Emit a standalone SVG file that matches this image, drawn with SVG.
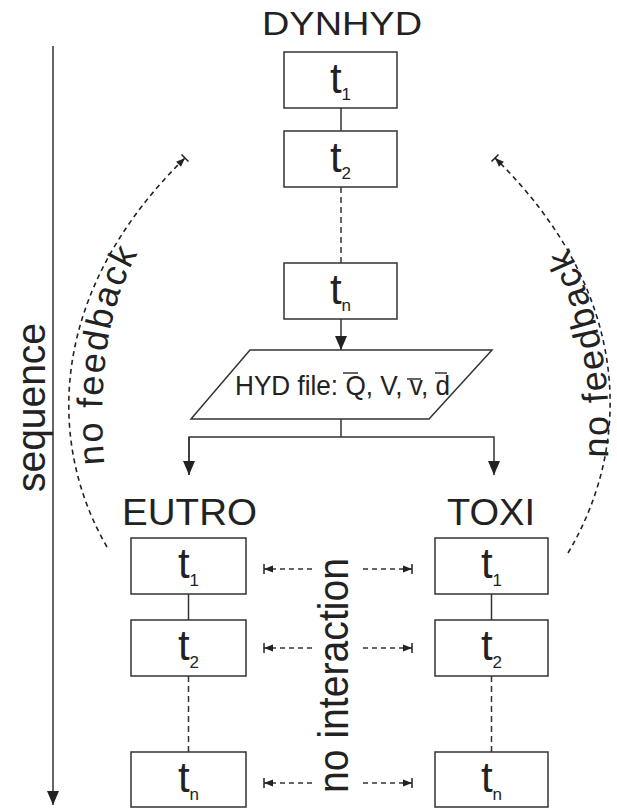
<svg xmlns="http://www.w3.org/2000/svg" width="617" height="809" viewBox="0 0 617 809">
<style>
.box{fill:#fff;stroke:#333;stroke-width:1.5}
.ln{fill:none;stroke:#333;stroke-width:1.5}
.dash{fill:none;stroke:#333;stroke-width:1.5;stroke-dasharray:6,4}
.idash{fill:none;stroke:#333;stroke-width:1.5;stroke-dasharray:5,4}
.cdash{fill:none;stroke:#222;stroke-width:1.6;stroke-dasharray:5,4}
.t{font-family:"Liberation Sans",Arial,sans-serif;fill:#222}
.tt{font-family:"Liberation Sans",Arial,sans-serif;fill:#222;font-size:42px;text-anchor:middle}
.sub{font-size:17px}
</style>
<defs>
<marker id="arr" viewBox="0 0 14 12" refX="14" refY="6" markerWidth="14" markerHeight="12" markerUnits="userSpaceOnUse" orient="auto">
<path d="M0,0 L14,6 L0,12 z" fill="#222"/>
</marker>
<marker id="arrBar" viewBox="0 0 12 12" refX="11" refY="6" markerWidth="12" markerHeight="12" markerUnits="userSpaceOnUse" orient="auto">
<path d="M2,2.5 L11,6 L2,9.5 z" fill="#222"/>
<path d="M11,1 L11,11" stroke="#222" stroke-width="1.5"/>
</marker>
<path id="fbL" d="M108,500 C 98,420 95,310 150,235"/>
<path id="fbR" d="M606,480 C 614,400 606,320 560,230"/>
</defs>

<g id="connectors">
<line class="ln" x1="341" y1="108" x2="341" y2="131"/>
<line class="dash" x1="341" y1="187" x2="341" y2="263"/>
<line class="ln" x1="341" y1="319" x2="341" y2="350" marker-end="url(#arr)"/>
<line class="ln" x1="341" y1="419" x2="341" y2="437"/>
<polyline class="ln" points="189,475 189,437 494,437 494,475" marker-end="url(#arr)"/>
<line class="ln" x1="189" y1="437" x2="189" y2="475" marker-end="url(#arr)"/>
<line class="ln" x1="188.5" y1="594" x2="188.5" y2="620"/>
<line class="dash" x1="188.5" y1="676" x2="188.5" y2="752"/>
<line class="ln" x1="491.5" y1="594" x2="491.5" y2="620"/>
<line class="dash" x1="491.5" y1="676" x2="491.5" y2="752"/>
<line class="idash" x1="312" y1="569" x2="264" y2="569" marker-end="url(#arrBar)"/>
<line class="idash" x1="363" y1="569" x2="412" y2="569" marker-end="url(#arrBar)"/>
<line class="idash" x1="312" y1="648" x2="264" y2="648" marker-end="url(#arrBar)"/>
<line class="idash" x1="363" y1="648" x2="412" y2="648" marker-end="url(#arrBar)"/>
<line class="idash" x1="312" y1="783" x2="264" y2="783" marker-end="url(#arrBar)"/>
<line class="idash" x1="363" y1="783" x2="412" y2="783" marker-end="url(#arrBar)"/>
<path class="cdash" d="M107,547 C 45,440 50,290 185,158" marker-end="url(#arrBar)"/>
<path class="cdash" d="M568,553 C 635,440 630,290 495,158" marker-end="url(#arrBar)"/>
<line class="ln" x1="53" y1="46" x2="53" y2="805" marker-end="url(#arr)"/>
</g>

<g id="dynhyd">
<text class="t" x="342" y="35" font-size="34" text-anchor="middle" textLength="160" lengthAdjust="spacingAndGlyphs">DYNHYD</text>
<g id="d_t1"><rect class="box" x="284" y="52" width="113" height="56"/><text class="tt" x="340.5" y="93">t<tspan class="sub" dy="7">1</tspan></text></g>
<g id="d_t2"><rect class="box" x="284" y="131" width="113" height="56"/><text class="tt" x="340.5" y="172">t<tspan class="sub" dy="7">2</tspan></text></g>
<g id="d_tn"><rect class="box" x="284" y="263" width="113" height="56"/><text class="tt" x="340.5" y="304">t<tspan class="sub" dy="7">n</tspan></text></g>
</g>

<g id="hydfile">
<polygon class="box" points="250,350 492,350 429,419 191,419"/>
<text class="t" x="235" y="395" font-size="28" textLength="215" lengthAdjust="spacingAndGlyphs">HYD file: Q, V, v, d</text>
<g stroke="#333" stroke-width="1.5">
<line x1="343" y1="373" x2="358" y2="373"/>
<line x1="407" y1="379" x2="421" y2="379"/>
<line x1="435" y1="373" x2="447" y2="373"/>
</g>
</g>

<g id="eutro">
<text class="t" x="189.5" y="525" font-size="37" text-anchor="middle" textLength="135" lengthAdjust="spacingAndGlyphs">EUTRO</text>
<g id="e_t1"><rect class="box" x="131" y="538" width="115" height="56"/><text class="tt" x="188.5" y="578">t<tspan class="sub" dy="8">1</tspan></text></g>
<g id="e_t2"><rect class="box" x="131" y="620" width="115" height="56"/><text class="tt" x="188.5" y="660">t<tspan class="sub" dy="8">2</tspan></text></g>
<g id="e_tn"><rect class="box" x="131" y="752" width="115" height="55"/><text class="tt" x="188.5" y="792">t<tspan class="sub" dy="8">n</tspan></text></g>
</g>

<g id="toxi">
<text class="t" x="491" y="525" font-size="37" text-anchor="middle" textLength="88" lengthAdjust="spacingAndGlyphs">TOXI</text>
<g id="x_t1"><rect class="box" x="435" y="538" width="113" height="56"/><text class="tt" x="491.5" y="578">t<tspan class="sub" dy="8">1</tspan></text></g>
<g id="x_t2"><rect class="box" x="435" y="620" width="113" height="56"/><text class="tt" x="491.5" y="660">t<tspan class="sub" dy="8">2</tspan></text></g>
<g id="x_tn"><rect class="box" x="435" y="752" width="113" height="55"/><text class="tt" x="491.5" y="792">t<tspan class="sub" dy="8">n</tspan></text></g>
</g>

<g id="labels">
<text class="t" font-size="40" text-anchor="middle" transform="translate(45,407.5) rotate(-90)" textLength="169" lengthAdjust="spacingAndGlyphs">sequence</text>
<text class="t" font-size="42" text-anchor="middle" transform="translate(348,675.5) rotate(-90)" textLength="235" lengthAdjust="spacingAndGlyphs">no interaction</text>
<text class="t" font-size="36" letter-spacing="2"><textPath href="#fbL" startOffset="36">no feedback</textPath></text>
<text class="t" font-size="36" letter-spacing="2"><textPath href="#fbR" startOffset="22">no feedback</textPath></text>
</g>
</svg>
